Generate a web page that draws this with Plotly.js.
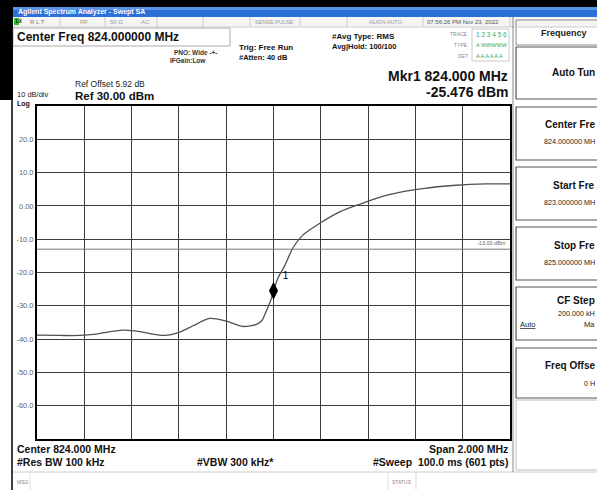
<!DOCTYPE html>
<html><head><meta charset="utf-8">
<script src="https://cdn.plot.ly/plotly-3.0.1.min.js"></script>
<style>html,body{margin:0;padding:0;background:#fff;}#chart{width:597px;height:490px;}</style>
</head><body><div id="chart"></div>
<script>
// ---- data ----
const freqMHz = [823.000, 823.100, 823.182, 823.250, 823.360, 823.420, 823.540, 823.600, 823.660, 823.730, 823.800, 823.870, 823.930, 823.950, 823.970, 823.990, 824.000, 824.020, 824.047, 824.083, 824.125, 824.196, 824.280, 824.364, 824.484, 824.630, 824.770, 824.900, 825.000];
const levelDbm = [-38.8, -38.9, -38.9, -38.5, -37.3, -37.6, -38.9, -38.0, -36.0, -33.8, -34.6, -36.2, -35.5, -34.5, -31.5, -28.0, -25.5, -21.5, -18.0, -12.5, -8.7, -5.2, -1.8, 0.5, 3.3, 5.2, 6.2, 6.6, 6.6];
const markerFreq = [824.000];
const markerLevel = [-25.476];
const displayLine = -13;
const yTickVals = [20, 10, 0, -10, -20, -30, -40, -50, -60];
const yTickText = ["20.0", "10.0", "0.00", "-10.0", "-20.0", "-30.0", "-40.0", "-50.0", "-60.0"];
const xRange = [823, 825];
const yRange = [-70, 30];

// ---- pixel helpers for UI chrome (plot area: x 37..510, y 106..439) ----
const L = 37, R = 510, T = 106, B = 439;
const px = x => (x - L) / (R - L);
const py = y => (B - y) / (B - T);
const FONT = "Arial, 'Liberation Sans', sans-serif";

const ann = [];
function txt(t, x, y, size, opts) {
  opts = opts || {};
  ann.push({
    text: t, xref: 'paper', yref: 'paper', x: px(x), y: py(y),
    xanchor: opts.anchor || 'left', yanchor: 'middle', showarrow: false,
    font: {family: FONT, size: size, color: opts.color || '#111', weight: opts.bold ? 'bold' : 'normal'}
  });
}
const shapes = [];
function rect(x0, y0, x1, y1, fill, line, lw) {
  shapes.push({type: 'rect', xref: 'paper', yref: 'paper', x0: px(x0), x1: px(x1), y0: py(y1), y1: py(y0),
    fillcolor: fill || 'rgba(0,0,0,0)', line: {color: line || 'rgba(0,0,0,0)', width: lw || 0}, layer: 'below'});
}
function hline(x0, x1, y, color, w) {
  shapes.push({type: 'line', xref: 'paper', yref: 'paper', x0: px(x0), x1: px(x1), y0: py(y), y1: py(y), line: {color: color, width: w}});
}
function vline(x, y0, y1, color, w) {
  shapes.push({type: 'line', xref: 'paper', yref: 'paper', x0: px(x), x1: px(x), y0: py(y0), y1: py(y1), line: {color: color, width: w}});
}

// window chrome
rect(0, 0, 597, 7, '#000');
rect(0, 0, 13, 100, '#000');
rect(13, 7, 597, 17, '#2b6fd8');
rect(13, 7, 597, 10, '#5a95ea');
txt('Agilent Spectrum Analyzer - Swept SA', 16, 12, 7, {color: '#fff', bold: true});
// status row
rect(13, 17, 597, 27, '#f4f4f4');
rect(14, 18, 19, 25, '#2fbf2f');
txt('LX', 14, 21.5, 4.5, {color: '#000', bold: true});
txt('R L T', 28, 22, 6, {color: '#777'});
txt('RF', 78, 22, 6, {color: '#999'});
txt('50 Ω', 108, 22, 6, {color: '#999'});
txt('AC', 139, 22, 6, {color: '#999'});
txt('SENSE:PULSE', 253, 22, 5.5, {color: '#999'});
txt('ALIGN AUTO', 367, 22, 5.5, {color: '#999'});
txt('07:56:26 PM Nov 23, 2022', 425, 22, 6, {color: '#555'});
[60, 105, 157, 203, 250, 300, 347, 423, 510].forEach(x => vline(x, 17, 27, '#ccc', 1));
hline(13, 597, 27, '#ccc', 1);
vline(12, 0, 490, '#000', 1.5);

// header info
rect(13, 28, 230, 46, null, '#aaa', 1);
txt('Center Freq 824.000000 MHz', 15, 37, 12, {bold: true});
txt('PNO: Wide -+-', 172, 52, 6.5, {color: '#333', bold: true});
txt('IFGain:Low', 168, 60, 6.5, {color: '#333', bold: true});
txt('Trig: Free Run', 237, 47, 8, {bold: true});
txt('#Atten: 40 dB', 237, 58, 7.5, {bold: true});
txt('#Avg Type: RMS', 330, 36, 8, {bold: true});
txt('Avg|Hold: 100/100', 330, 46, 7.5, {bold: true});
txt('TRACE', 470, 34, 5, {color: '#888', anchor: 'right'});
txt('TYPE', 470, 45, 5, {color: '#888', anchor: 'right'});
txt('DET', 470, 56, 5, {color: '#888', anchor: 'right'});
rect(472, 29, 509, 61, null, '#bbb', 0.8);
txt('1 2 3 4 5 6', 474, 34, 6.5, {color: '#3a6'});
txt('A WWWWW', 474, 45, 5.5, {color: '#3a6'});
txt('A A A A A A', 474, 56, 5.5, {color: '#3a6'});
txt('Mkr1 824.000 MHz', 510, 76, 14, {bold: true, anchor: 'right'});
txt('-25.476 dBm', 510, 92, 14, {bold: true, anchor: 'right'});
txt('Ref Offset 5.92 dB', 73, 84, 8.5, {color: '#222'});
txt('Ref 30.00 dBm', 73, 96, 11.5, {bold: true});
txt('10 dB/div', 15, 95, 7.5, {color: '#222'});
txt('Log', 15, 103.5, 7, {bold: true});

// -13 dBm display line label
ann.push({text: '-13.00 dBm', xref: 'paper', yref: 'y', x: px(508), y: displayLine, xanchor: 'right', yanchor: 'bottom',
  yshift: 1, showarrow: false, font: {family: FONT, size: 5.5, color: '#666'}});

// footer
txt('Center 824.000 MHz', 15, 449, 10.5, {bold: true});
txt('#Res BW 100 kHz', 15, 462, 10.5, {bold: true});
txt('#VBW 300 kHz*', 195, 462, 10.5, {bold: true});
txt('Span 2.000 MHz', 510, 449, 10.5, {bold: true, anchor: 'right'});
txt('#Sweep  100.0 ms (601 pts)', 510, 462, 10.5, {bold: true, anchor: 'right'});
hline(13, 597, 472, '#ccc', 1);
txt('MSG', 15, 482, 5, {color: '#888'});
vline(30, 472, 490, '#ddd', 1);
vline(388, 472, 490, '#ddd', 1);
vline(416, 472, 490, '#ddd', 1);
txt('STATUS', 390, 482, 5, {color: '#888'});

// right softkey panel (text is cut by the window edge in the screenshot)
vline(513, 17, 472, '#888', 1);
rect(516, 20, 600, 45, null, '#888', 1);
txt('Frequency', 539, 33, 9, {color: '#222', bold: true});
const keys = [
  {y0: 47, y1: 99, t1: 'Auto Tun', ty1: 73},
  {y0: 107, y1: 160, t1: 'Center Fre', ty1: 124, t2: '824.000000 MH', ty2: 141},
  {y0: 167, y1: 220, t1: 'Start Fre', ty1: 185, t2: '823.000000 MH', ty2: 202},
  {y0: 227, y1: 280, t1: 'Stop Fre', ty1: 245, t2: '825.000000 MH', ty2: 262},
  {y0: 287, y1: 340, t1: 'CF Step', ty1: 300, t2: '200.000 kH', ty2: 313},
  {y0: 348, y1: 398, t1: 'Freq Offse', ty1: 365, t2: '0 H', ty2: 383}
];
keys.forEach(k => {
  rect(516, k.y0, 600, k.y1, null, '#555', 1.2);
  txt(k.t1, 597, k.ty1, 10, {bold: true, color: '#111', anchor: 'right'});
  if (k.t2) txt(k.t2, 597, k.ty2, 7.2, {color: '#222', anchor: 'right'});
});
txt('<u>Auto</u>', 518, 324, 7.5, {color: '#222'});
txt('Ma', 597, 324, 7.5, {color: '#222', anchor: 'right'});
rect(516, 400, 600, 470, null, '#bbb', 1);

// display line on the data axes
shapes.push({type: 'line', xref: 'paper', yref: 'y', x0: 0, x1: 1, y0: displayLine, y1: displayLine, line: {color: '#777', width: 1}, layer: 'above'});

const traces = [
  {x: freqMHz, y: levelDbm, type: 'scatter', mode: 'lines', line: {color: '#505050', width: 1.3, shape: 'spline', smoothing: 0.8}, hoverinfo: 'skip'},
  {x: markerFreq, y: markerLevel, type: 'scatter', mode: 'markers+text', text: ['1'], textposition: 'top right',
    textfont: {family: FONT, size: 10, color: '#000'},
    marker: {symbol: 'diamond-tall', size: 13, color: '#000'}, hoverinfo: 'skip'}
];

const layout = {
  width: 597, height: 490,
  margin: {l: L, r: 597 - R, t: T, b: 490 - B, pad: 0},
  paper_bgcolor: '#fff', plot_bgcolor: '#fff',
  showlegend: false,
  xaxis: {range: xRange, dtick: 0.2, tick0: 823, showticklabels: false, ticks: '', showgrid: true,
    gridcolor: '#3c3c3c', gridwidth: 1, zeroline: false, showline: true, mirror: true, linecolor: '#000', linewidth: 2, fixedrange: true},
  yaxis: {range: yRange, tickvals: yTickVals, ticktext: yTickText, ticks: '', showgrid: true,
    gridcolor: '#3c3c3c', gridwidth: 1, zeroline: false, showline: true, mirror: true, linecolor: '#000', linewidth: 2,
    tickfont: {family: FONT, size: 7.5, color: '#666'}, fixedrange: true},
  annotations: ann,
  shapes: shapes
};
Plotly.newPlot('chart', traces, layout, {displayModeBar: false, staticPlot: true});
</script></body></html>
